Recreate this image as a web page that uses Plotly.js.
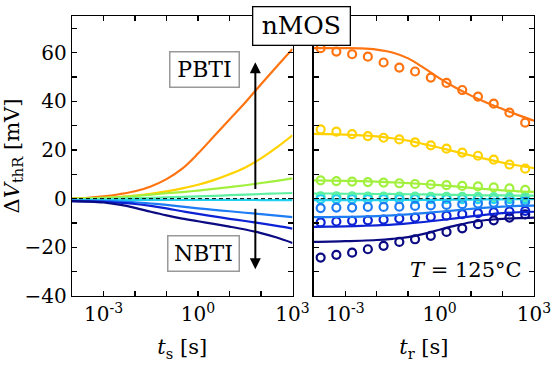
<!DOCTYPE html>
<html><head><meta charset="utf-8">
<script src="https://cdn.plot.ly/plotly-3.0.1.min.js"></script>
<style>html,body{margin:0;padding:0;background:#fff}#chart{width:560px;height:373px}</style>
</head><body><div id="chart"></div>
<script>
// stress / recovery time grids (s)
const tStress = [1e-4, 3.16e-4, 1e-3, 3.16e-3, 1e-2, 3.16e-2, 0.1, 0.316, 1, 3.16, 10, 31.6, 100, 316, 1000];
const tRecLine = [1e-4, 3.16e-4, 1e-3, 3.16e-3, 1e-2, 3.16e-2, 0.1, 0.316, 1, 3.16, 10, 31.6, 100, 316, 1000];
const tRecMeas = [1.66e-4, 5.25e-4, 1.66e-3, 5.25e-3, 1.66e-2, 5.25e-2, 0.166, 0.525, 1.66, 5.25, 16.6, 52.5, 166, 525];

const colors = ['#ff7410', '#ffd200', '#a2f03e', '#5cf0a0', '#22d2f0', '#1e7cf4', '#0c22d4', '#0a0a82'];

// stress curves (mV)
const stressOrange = [0, 0.3, 0.9, 1.8, 3.0, 5.0, 8.0, 12.3, 18.5, 25.5, 32.5, 39.5, 47.0, 54.3, 61.5];
const stressYellow = [0, 0.1, 0.3, 0.6, 1.2, 2.0, 3.0, 4.2, 5.7, 7.6, 10.0, 12.8, 16.5, 21.0, 26.0];
const stressLime   = [0, 0.1, 0.3, 0.6, 1.1, 1.6, 2.2, 2.7, 3.3, 4.0, 4.7, 5.5, 6.4, 7.3, 8.3];
const stressSpring = [-0.4, -0.3, -0.1, 0, 0.2, 0.3, 0.5, 0.7, 0.9, 1.1, 1.4, 1.6, 1.9, 2.1, 2.3];
const stressCyan   = [-0.6, -0.6, -0.6, -0.5, -0.5, -0.5, -0.5, -0.5, -0.5, -0.5, -0.5, -0.5, -0.6, -0.6, -0.6];
const stressLBlue  = [-0.8, -0.9, -1.0, -1.2, -1.5, -2.0, -2.6, -3.3, -4.0, -4.6, -5.2, -5.8, -6.4, -7.0, -7.6];
const stressBlue   = [-1.0, -1.1, -1.3, -1.7, -2.2, -3.0, -4.0, -5.2, -6.3, -7.3, -8.3, -9.2, -10.2, -11.2, -12.3];
const stressNavy   = [-1.0, -1.2, -1.6, -2.5, -3.8, -5.4, -6.9, -8.2, -9.3, -10.4, -11.5, -12.7, -14.2, -16.0, -18.2];

// recovery model lines (mV)
const recOrange = [61.8, 61.8, 61.8, 61.7, 61.2, 60.0, 57.6, 53.7, 49.4, 45.6, 42.3, 39.4, 36.8, 34.3, 32.0];
const recYellow = [26.6, 26.5, 26.3, 26.0, 25.6, 24.8, 23.8, 22.4, 20.9, 19.3, 17.7, 16.2, 14.8, 13.6, 12.5];
const recLime   = [7.5, 7.4, 7.3, 7.2, 7.0, 6.7, 6.4, 6.0, 5.5, 5.0, 4.4, 3.9, 3.4, 3.0, 2.8];
const recSpring = [2.1, 2.1, 2.0, 2.0, 1.9, 1.9, 1.8, 1.7, 1.6, 1.5, 1.4, 1.3, 1.3, 1.2, 1.2];
const recCyan   = [-0.6, -0.6, -0.6, -0.6, -0.6, -0.5, -0.5, -0.5, -0.5, -0.4, -0.4, -0.3, -0.3, -0.2, -0.2];
const recLBlue  = [-7.6, -7.6, -7.5, -7.4, -7.2, -6.9, -6.5, -6.0, -5.4, -4.8, -4.2, -3.7, -3.3, -3.0, -2.9];
const recBlue   = [-11.6, -11.5, -11.4, -11.2, -11.0, -10.7, -10.2, -9.6, -8.9, -8.1, -7.3, -6.6, -6.0, -5.6, -5.4];
const recNavy   = [-17.8, -17.7, -17.5, -17.3, -17.0, -16.5, -15.8, -14.5, -12.8, -11.1, -9.7, -8.8, -8.3, -8.0, -7.8];

// recovery measurements (mV)
const measOrange = [61.8, 60.4, 59.3, 58.3, 55.9, 53.8, 52.2, 49.7, 47.5, 44.6, 41.9, 39.0, 35.3, 31.2];
const measYellow = [28.4, 27.5, 26.5, 25.7, 25.0, 24.3, 23.1, 21.9, 20.5, 18.9, 17.6, 16.0, 14.0, 12.3];
const measLime   = [7.5, 7.2, 7.0, 6.8, 6.6, 6.3, 6.0, 5.8, 5.5, 5.2, 5.0, 4.6, 4.2, 3.6];
const measSpring = [0.9, 0.9, 0.9, 0.8, 0.8, 0.8, 0.8, 0.7, 0.7, 0.7, 0.7, 0.6, 0.6, 0.6];
const measCyan   = [-0.2, -0.2, -0.2, -0.2, -0.2, -0.2, -0.2, -0.2, -0.2, -0.2, -0.2, -0.2, -0.2, -0.2];
const measLBlue  = [-3.9, -3.7, -3.7, -3.4, -3.4, -3.3, -3.0, -2.8, -2.6, -2.3, -2.0, -1.7, -1.5, -1.2];
const measBlue   = [-9.8, -9.4, -9.1, -8.9, -8.6, -8.2, -7.8, -7.5, -7.0, -6.4, -6.0, -5.6, -5.3, -5.0];
const measNavy   = [-24.2, -23.1, -22.2, -20.8, -19.4, -17.8, -16.7, -15.3, -13.7, -12.2, -10.5, -8.9, -7.8, -6.5];

const xTickVals = [1e-3, 1e-2, 1e-1, 1, 10, 100, 1000];
const xTickText = ['10<sup>-3</sup>', '', '', '10<sup>0</sup>', '', '', '10<sup>3</sup>'];
const yTickVals = [-40, -30, -20, -10, 0, 10, 20, 30, 40, 50, 60, 70];
const yTickText = ['\u221240', '', '\u221220', '', '0', '', '20', '', '40', '', '60', ''];

const stressSets = [stressOrange, stressYellow, stressLime, stressSpring, stressCyan, stressLBlue, stressBlue, stressNavy];
const recSets = [recOrange, recYellow, recLime, recSpring, recCyan, recLBlue, recBlue, recNavy];
const measSets = [measOrange, measYellow, measLime, measSpring, measCyan, measLBlue, measBlue, measNavy];

const FONT = 'DejaVu Serif, Liberation Serif, serif';
const traces = [];
stressSets.forEach((s, i) => traces.push({x: tStress, y: s, xaxis: 'x', yaxis: 'y', mode: 'lines',
  line: {color: colors[i], width: 2.2, shape: 'spline'}, showlegend: false, hoverinfo: 'skip'}));
measSets.forEach((s, i) => traces.push({x: tRecMeas, y: s, xaxis: 'x2', yaxis: 'y2', mode: 'markers',
  marker: {symbol: 'circle-open', size: 8, color: colors[i], line: {width: 2.2, color: colors[i]}}, showlegend: false, hoverinfo: 'skip'}));
recSets.forEach((s, i) => traces.push({x: tRecLine, y: s, xaxis: 'x2', yaxis: 'y2', mode: 'lines',
  line: {color: colors[i], width: 2.2, shape: 'spline'}, showlegend: false, hoverinfo: 'skip'}));

const axisCommon = {showline: true, linecolor: '#000', linewidth: 1.3, mirror: 'allticks', ticks: 'inside',
  ticklen: 5, tickwidth: 1.3, tickcolor: '#000', showgrid: false, zeroline: false,
  tickfont: {family: FONT, size: 20, color: '#000'}};

const layout = {
  width: 560, height: 373, paper_bgcolor: '#fff', plot_bgcolor: '#fff',
  margin: {l: 72, r: 26, t: 16, b: 77},
  font: {family: FONT, color: '#000'},
  xaxis: Object.assign({}, axisCommon, {type: 'log', range: [-4, 3], domain: [0, 0.4773], anchor: 'y',
    tickvals: xTickVals, ticktext: xTickText,
    title: {text: '<i>t</i><sub>s</sub> [s]', font: {family: FONT, size: 21}, standoff: 14}}),
  xaxis2: Object.assign({}, axisCommon, {type: 'log', range: [-4, 3], domain: [0.5232, 1], anchor: 'y2',
    tickvals: xTickVals, ticktext: xTickText,
    title: {text: '<i>t</i><sub>r</sub> [s]', font: {family: FONT, size: 21}, standoff: 14}}),
  yaxis: Object.assign({}, axisCommon, {range: [-40, 75], anchor: 'x', tickvals: yTickVals, ticktext: yTickText,
    title: {text: '\u0394<i>V</i><sub>thR</sub> [mV]', font: {family: FONT, size: 21}, standoff: 2}}),
  yaxis2: Object.assign({}, axisCommon, {range: [-40, 75], anchor: 'x2', tickvals: yTickVals, showticklabels: false}),
  shapes: [
    {type: 'line', xref: 'x domain', yref: 'y', x0: 0, x1: 1, y0: 0, y1: 0, line: {color: '#000', width: 1, dash: '4px,3px'}},
    {type: 'line', xref: 'x2 domain', yref: 'y2', x0: 0, x1: 1, y0: 0, y1: 0, line: {color: '#000', width: 1, dash: '4px,3px'}}
  ],
  annotations: [
    {xref: 'x', yref: 'y', axref: 'x', ayref: 'y', x: 1.82, y: 56, ax: 1.82, ay: 3.3, text: '', showarrow: true,
      arrowhead: 2, arrowsize: 1.1, arrowwidth: 2, arrowcolor: '#000'},
    {xref: 'x', yref: 'y', axref: 'x', ayref: 'y', x: 1.82, y: -29, ax: 1.82, ay: -3.5, text: '', showarrow: true,
      arrowhead: 2, arrowsize: 1.1, arrowwidth: 2, arrowcolor: '#000'},
    {xref: 'x', yref: 'y', x: 0.21, y: 53, xanchor: 'center', yanchor: 'middle', text: 'PBTI', showarrow: false,
      font: {family: FONT, size: 22, color: '#000'},
      bgcolor: '#fff', bordercolor: '#999', borderwidth: 1.5, borderpad: 5, width: 58, height: 24},
    {xref: 'x', yref: 'y', x: 0.19, y: -22.7, xanchor: 'center', yanchor: 'middle', text: 'NBTI', showarrow: false,
      font: {family: FONT, size: 22, color: '#000'},
      bgcolor: '#fff', bordercolor: '#999', borderwidth: 1.5, borderpad: 5, width: 60, height: 24},
    {xref: 'paper', yref: 'paper', x: 0.4957, y: 0.965, xanchor: 'center', yanchor: 'middle', text: 'nMOS', showarrow: false,
      font: {family: FONT, size: 25, color: '#000'},
      bgcolor: '#fff', bordercolor: '#000', borderwidth: 1.3, borderpad: 4, width: 88, height: 29},
    {xref: 'x2 domain', yref: 'y2', x: 0.955, y: -29.5, xanchor: 'right', yanchor: 'middle', text: '<i>T</i> = 125°C', showarrow: false,
      font: {family: FONT, size: 21, color: '#000'}}
  ]
};

Plotly.newPlot('chart', traces, layout, {staticPlot: true, displayModeBar: false});
</script></body></html>
